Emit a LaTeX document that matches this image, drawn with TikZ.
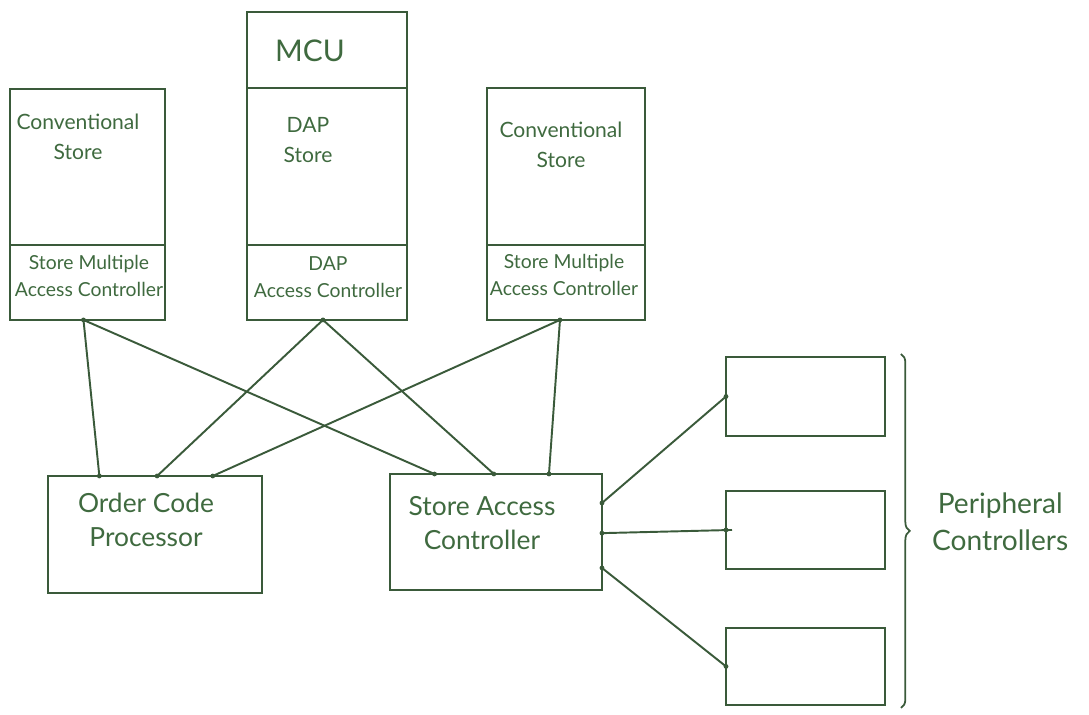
\documentclass[tikz,border=0pt]{standalone}
\usepackage{fontspec}
\setmainfont{Lato}
\usetikzlibrary{positioning,calc,decorations.pathreplacing}
\definecolor{ink}{HTML}{3A5A3A}
\definecolor{inktext}{HTML}{3F6A3F}

\begin{document}
\begin{tikzpicture}[
    x=0.02cm, y=-0.02cm,
    unit/.style={draw=ink, line width=1.1pt, outer sep=0pt, inner sep=0pt},
    txt/.style={text=inktext, align=center, font=\fontsize{12}{17}\selectfont},
    small/.style={text=inktext, align=center, font=\fontsize{11}{15}\selectfont},
    big/.style={text=inktext, align=center, font=\fontsize{15}{19}\selectfont},
    link/.style={draw=ink, line width=1.1pt},
]
\useasboundingbox (0,0) rectangle (1089,715);

\node[unit, anchor=north west, minimum width=3.1cm, minimum height=3.12cm]
    (cs1) at (10,89) {};
\node[unit, below=0pt of cs1, minimum width=3.1cm, minimum height=1.5cm] (smac1) {};
\node[unit, anchor=north west, minimum width=3.2cm, minimum height=1.52cm]
    (mcu) at (247,12) {};
\node[unit, below=0pt of mcu, minimum width=3.2cm, minimum height=3.14cm] (dap) {};
\node[unit, below=0pt of dap, minimum width=3.2cm, minimum height=1.5cm] (dac) {};
\node[unit, anchor=north west, minimum width=3.16cm, minimum height=3.14cm]
    (cs2) at (487,88) {};
\node[unit, below=0pt of cs2, minimum width=3.16cm, minimum height=1.5cm] (smac2) {};

\node[unit, anchor=north west, minimum width=4.28cm, minimum height=2.34cm]
    (ocp) at (48,476) {};
\node[unit, anchor=north west, minimum width=4.24cm, minimum height=2.32cm]
    (sac) at (390,474) {};

\node[unit, anchor=north west, minimum width=3.18cm, minimum height=1.58cm]
    (pc1) at (726,357) {};
\node[unit, below=1.1cm of pc1, minimum width=3.18cm, minimum height=1.56cm] (pc2) {};
\node[unit, below=1.18cm of pc2, minimum width=3.18cm, minimum height=1.54cm] (pc3) {};

\node[txt] (cs1t) at (78,137) {Conventional\\Store};
\node[small] (smac1t) at (89,276) {Store Multiple\\Access Controller};
\node[text=inktext, font=\fontsize{17}{20}\selectfont] (mcut) at (310,51) {MCU};
\node[txt] (dapt) at (308,140) {DAP\\Store};
\node[small] (dact) at (328,277) {DAP\\Access Controller};
\node[txt] (cs2t) at (561,145) {Conventional\\Store};
\node[small] (smac2t) at (564,275) {Store Multiple\\Access Controller};
\node[big] (ocpt) at (146,520) {Order Code\\Processor};
\node[big] (sact) at (482,523) {Store Access\\Controller};
\node[big, font=\fontsize{16}{21}\selectfont, anchor=west] (pct) at (926,522)
    {Peripheral\\Controllers};

\path (ocp.north west) -- (ocp.north east)
    coordinate[pos=0.24] (o1) coordinate[pos=0.51] (o2) coordinate[pos=0.77] (o3);
\path (sac.north west) -- (sac.north east)
    coordinate[pos=0.21] (s1) coordinate[pos=0.49] (s2) coordinate[pos=0.75] (s3);
\path (sac.north east) -- (sac.south east)
    coordinate[pos=0.25] (r1) coordinate[pos=0.51] (r2) coordinate[pos=0.81] (r3);
\coordinate (t1) at ($(smac1.south)+(-4,0)$);
\coordinate (t2) at ($(dac.south)+(-4,0)$);
\coordinate (t3) at ($(smac2.south)+(-6,0)$);

\draw[link] (t1) -- (o1);
\draw[link] (t1) -- (s1);
\draw[link] (t2) -- (o2);
\draw[link] (t2) -- (s2);
\draw[link] (t3) -- (o3);
\draw[link] (t3) -- (s3);
\draw[link] (r1) -- (pc1.west);
\draw[link] (r2) -- ($(pc2.west)+(6,0)$);
\draw[link] (r3) -- (pc3.west);
\foreach \p in {t1,t2,t3,o1,o2,o3,s1,s2,s3,r1,r2,r3,pc1.west,pc2.west,pc3.west}
    \fill[ink] (\p) circle (2.4);

\draw[ink, line width=1pt, decorate, decoration={brace, amplitude=5pt}]
    ($(pc1.north east)+(16,-3)$) -- ($(pc3.south east)+(16,3)$);
\end{tikzpicture}
\end{document}
